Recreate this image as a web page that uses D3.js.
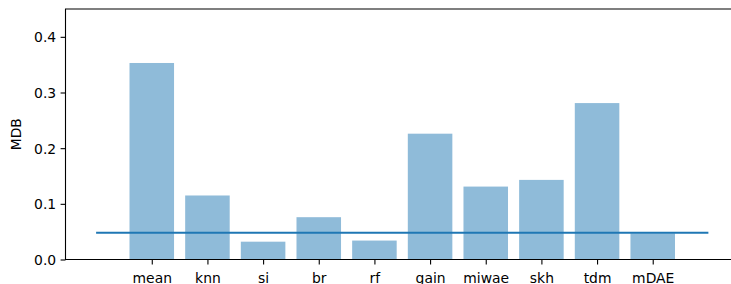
<!DOCTYPE html>
<html>
<head>
<meta charset="utf-8">
<script src="https://cdn.jsdelivr.net/npm/d3@7"></script>
<style>
    body { margin: 0; background: #fff; }
    svg { display: block; }
    text { font-family: "DejaVu Sans", sans-serif; }
</style>
</head>
<body>
<script>
// chart values
var methods = ['mean', 'knn', 'si', 'br', 'rf', 'gain', 'miwae', 'skh', 'tdm', 'mDAE'];
var mdb = [0.353, 0.115, 0.032, 0.076, 0.034, 0.226, 0.131, 0.143, 0.281, 0.047];
var refLine = [{ x: -1, y: 0.048 }, { x: 10, y: 0.048 }];
var yTicks = [0.0, 0.1, 0.2, 0.3, 0.4];

var width = 731,
    height = 284,
    fontSize = 13.9;

// Scale for x-axis (index of method), right part of the axes is cut off by the picture
var xScale = d3.scaleLinear().domain([-1.55, 10.55]).range([65.5, 739]);

// Scale for y-axis
var yScale = d3.scaleLinear().domain([0, 0.45]).range([259.5, 9]);

var svg = d3.select('body').append('svg')
    .attr('width', width)
    .attr('height', height);

// bars
var barW = xScale(0.8) - xScale(0);
svg.selectAll('.bar')
    .data(mdb)
    .enter().append('rect')
    .attr('class', 'bar')
    .attr('x', function (d, i) { return xScale(i) - barW / 2; })
    .attr('y', function (d) { return yScale(d); })
    .attr('width', barW)
    .attr('height', function (d) { return yScale(0) - yScale(d); })
    .attr('fill', '#1f77b4')
    .attr('fill-opacity', 0.5);

// horizontal reference line
var line = d3.line()
    .x(function (d) { return xScale(d.x); })
    .y(function (d) { return yScale(d.y); });

svg.append('path')
    .datum(refLine)
    .attr('d', line)
    .attr('fill', 'none')
    .attr('stroke', '#1f77b4')
    .attr('stroke-width', 2.1);

// x axis
var xAxis = d3.axisBottom(xScale)
    .tickValues(d3.range(methods.length))
    .tickFormat(function (d) { return methods[d]; })
    .tickSize(4.9)
    .tickPadding(4.9);

var gx = svg.append('g')
    .attr('transform', 'translate(0,' + yScale(0) + ')')
    .call(xAxis);
gx.select('.domain').remove();
gx.selectAll('line').attr('stroke', '#000').attr('stroke-width', 1.1);
gx.selectAll('text')
    .attr('fill', '#000')
    .attr('font-size', fontSize)
    .attr('dy', null)
    .attr('y', 23);

// y axis
var yAxis = d3.axisLeft(yScale)
    .tickValues(yTicks)
    .tickFormat(d3.format('.1f'))
    .tickSize(4.9)
    .tickPadding(4.4);

var gy = svg.append('g')
    .attr('transform', 'translate(' + xScale.range()[0] + ',0)')
    .call(yAxis);
gy.select('.domain').remove();
gy.selectAll('line').attr('stroke', '#000').attr('stroke-width', 1.1);
gy.selectAll('text')
    .attr('fill', '#000')
    .attr('font-size', fontSize)
    .attr('dy', '0.36em');

// spines (left, top, bottom; right one falls outside the picture)
var x0 = xScale.range()[0], x1 = xScale.range()[1], y0 = yScale(0), y1 = yScale(0.45);
svg.append('path')
    .attr('d', 'M' + x1 + ',' + y1 + 'H' + x0 + 'V' + y0 + 'H' + x1)
    .attr('fill', 'none')
    .attr('stroke', '#000')
    .attr('stroke-width', 1.1);

// y label
svg.append('text')
    .attr('transform', 'translate(21,' + ((y0 + y1) / 2) + ') rotate(-90)')
    .attr('text-anchor', 'middle')
    .attr('font-size', fontSize)
    .attr('fill', '#000')
    .text('MDB');
</script>
</body>
</html>
